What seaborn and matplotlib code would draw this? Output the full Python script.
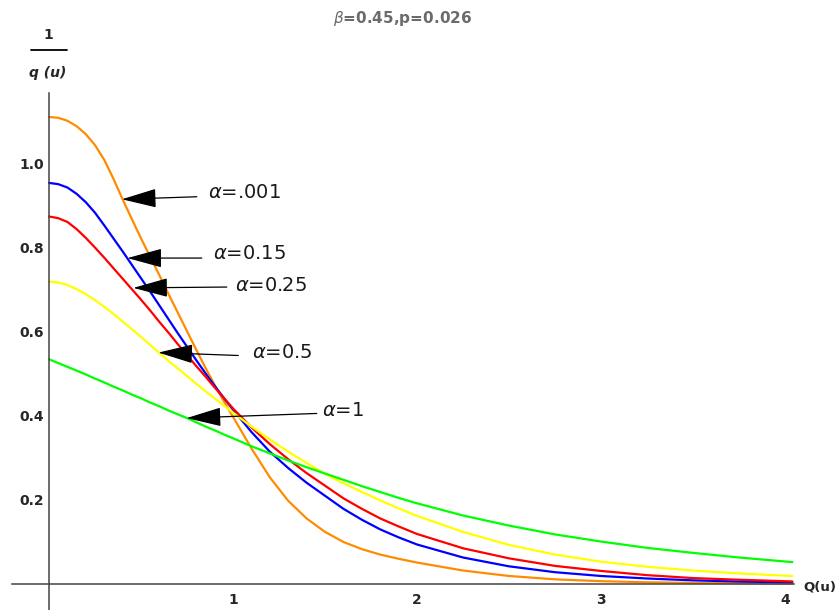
import matplotlib
matplotlib.use("Agg")
import matplotlib.pyplot as plt
from matplotlib.lines import Line2D
import seaborn as sns
import pandas as pd
import numpy as np

# values
q_vals = [0.0, 0.05, 0.1, 0.15, 0.2, 0.25, 0.3, 0.35, 0.4, 0.45, 0.5, 0.55, 0.6, 0.65, 0.7,
          0.75, 0.8, 0.85, 0.9, 0.95, 1.0, 1.1, 1.2, 1.3, 1.4, 1.5, 1.6, 1.7, 1.8, 1.9,
          2.0, 2.25, 2.5, 2.75, 3.0, 3.25, 3.5, 3.75, 4.04]

alpha_001 = [1.112, 1.110, 1.103, 1.090, 1.071, 1.045, 1.010, 0.965, 0.916, 0.869, 0.823,
             0.779, 0.735, 0.690, 0.646, 0.602, 0.558, 0.515, 0.474, 0.435, 0.398,
             0.323, 0.254, 0.198, 0.156, 0.124, 0.100, 0.083, 0.070, 0.060,
             0.051, 0.032, 0.019, 0.011, 0.0066, 0.004, 0.0024, 0.0015, 0.0009]
alpha_015 = [0.955, 0.952, 0.944, 0.929, 0.909, 0.884, 0.854, 0.823, 0.792, 0.760, 0.728,
             0.696, 0.663, 0.630, 0.597, 0.565, 0.533, 0.502, 0.472, 0.443, 0.415,
             0.362, 0.315, 0.276, 0.241, 0.210, 0.179, 0.153, 0.130, 0.111,
             0.094, 0.063, 0.042, 0.028, 0.019, 0.013, 0.0086, 0.0057, 0.0036]
alpha_025 = [0.875, 0.871, 0.862, 0.845, 0.824, 0.801, 0.777, 0.752, 0.727, 0.702, 0.677,
             0.651, 0.624, 0.598, 0.571, 0.545, 0.519, 0.494, 0.468, 0.443, 0.418,
             0.373, 0.333, 0.297, 0.264, 0.234, 0.204, 0.179, 0.156, 0.137,
             0.119, 0.085, 0.061, 0.043, 0.031, 0.021, 0.014, 0.010, 0.006]
alpha_05 = [0.720, 0.718, 0.712, 0.702, 0.690, 0.676, 0.660, 0.643, 0.625, 0.607, 0.588,
            0.569, 0.550, 0.531, 0.513, 0.495, 0.477, 0.459, 0.442, 0.425, 0.408,
            0.375, 0.344, 0.315, 0.288, 0.262, 0.240, 0.219, 0.199, 0.180,
            0.162, 0.124, 0.093, 0.070, 0.053, 0.041, 0.032, 0.025, 0.019]
alpha_1 = [0.535, 0.526, 0.517, 0.508, 0.499, 0.489, 0.480, 0.470, 0.461, 0.451, 0.442,
           0.432, 0.423, 0.413, 0.404, 0.395, 0.385, 0.375, 0.366, 0.356, 0.347,
           0.328, 0.311, 0.294, 0.278, 0.263, 0.248, 0.233, 0.219, 0.205,
           0.192, 0.163, 0.139, 0.118, 0.101, 0.086, 0.074, 0.063, 0.052]

series_names = ["α=.001", "α=0.15", "α=0.25", "α=0.5", "α=1"]
series_vals = [alpha_001, alpha_015, alpha_025, alpha_05, alpha_1]
colors = ["#FF8C00", "#0000FF", "#FF0000", "#FFFF00", "#00FF00"]

rows = []
for name, vals in zip(series_names, series_vals):
    for q, v in zip(q_vals, vals):
        rows.append({"Q": q, "inv_q": v, "alpha": name})
df = pd.DataFrame(rows)

sns.set_style("white")
plt.rcParams["font.family"] = ["DejaVu Sans"]
plt.rcParams["mathtext.fontset"] = "dejavusans"

fig = plt.figure(figsize=(8.4, 6.1), dpi=100)
ax = fig.add_axes([12.2 / 840, 0.0, 782 / 840, 517.4 / 610])

sns.lineplot(data=df, x="Q", y="inv_q", hue="alpha", palette=dict(zip(series_names, colors)),
             linewidth=1.6, legend=False, ax=ax, sort=False, estimator=None)

ax.set_xlim(-0.2, 4.05)
ax.set_ylim(-0.062, 1.17)
ax.set_xlabel("")
ax.set_ylabel("")

# mathematica style axes through origin
for s in ["top", "right"]:
    ax.spines[s].set_visible(False)
ax.spines["left"].set_position(("data", 0))
ax.spines["bottom"].set_position(("data", 0))
for s in ["left", "bottom"]:
    ax.spines[s].set_color("#444444")
    ax.spines[s].set_linewidth(1.1)

ax.set_xticks([1, 2, 3, 4])
ax.set_xticks(np.arange(-0.2, 4.05, 0.2), minor=True)
ax.set_yticks([0.2, 0.4, 0.6, 0.8, 1.0])
ax.set_yticks(np.arange(0.05, 1.17, 0.05), minor=True)
ax.set_yticklabels(["0.2", "0.4", "0.6", "0.8", "1.0"])
ax.tick_params(which="major", direction="in", length=6, width=1, color="#666666",
               labelsize=10)
ax.tick_params(which="minor", direction="in", length=3.5, width=0.8, color="#888888")
ax.tick_params(axis="x", which="major", pad=6.5)
ax.tick_params(axis="y", which="major", pad=3.5)
for lab in ax.get_xticklabels() + ax.get_yticklabels():
    lab.set_fontweight("bold")

# arrows with labels
tips = [(0.396, 0.916), (0.426, 0.776), (0.458, 0.705), (0.594, 0.551), (0.748, 0.395)]
tails = [(0.803, 0.922), (0.830, 0.776), (0.966, 0.707), (1.029, 0.544), (1.455, 0.406)]
text_pos = [(0.864, 0.933), (0.891, 0.788), (1.011, 0.710), (1.102, 0.550), (1.482, 0.414)]
label_txt = [r"$\alpha$=.001", r"$\alpha$=0.15", r"$\alpha$=0.25", r"$\alpha$=0.5", r"$\alpha$=1"]
for tip, tail, tp, txt in zip(tips, tails, text_pos, label_txt):
    ax.annotate("", xy=tip, xytext=tail,
                arrowprops=dict(arrowstyle="-|>,head_length=1.1,head_width=0.3",
                                mutation_scale=20, color="black", lw=0.9,
                                shrinkA=0, shrinkB=0))
    ax.text(tp[0], tp[1], txt, fontsize=14, color="#1a1a1a", ha="left", va="center")

# axis labels in mathematica layout
fig.text(48 / 840, 1 - 35 / 610, "1", ha="center", va="center", fontsize=10, fontweight="bold")
fig.add_artist(Line2D([31 / 840, 67 / 840], [1 - 50 / 610, 1 - 50 / 610],
                      transform=fig.transFigure, color="black", lw=1.3))
fig.text(48 / 840, 1 - 73 / 610, "q (u)", ha="center", va="center", fontsize=10,
         fontweight="bold", fontstyle="italic")
fig.text(803 / 840, 1 - 587 / 610, "Q(u)", ha="left", va="center", fontsize=9.5,
         fontweight="bold")
fig.text(403 / 840, 1 - 18 / 610, r"$\beta$=0.45,p=0.026", ha="center", va="center",
         fontsize=11, fontweight="bold", color="#6b6b6b")

fig.savefig("out.png", dpi=100)
plt.close(fig)
